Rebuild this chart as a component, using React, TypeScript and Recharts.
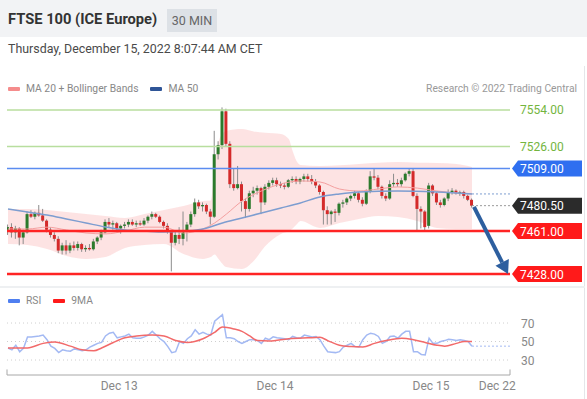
import { ComposedChart, Bar, Area, Line, XAxis, YAxis, ReferenceLine } from 'recharts';

const FONT = 'Roboto, "Liberation Sans", Arial, sans-serif';

// 30 min candles, Dec 12 evening -> Dec 15 morning
const OPEN = [
  7462, 7464, 7460, 7463, 7456, 7460, 7474, 7472, 7475, 7473,
  7469, 7462, 7458, 7455, 7446, 7450, 7446, 7450, 7448, 7451,
  7447, 7448, 7447, 7453, 7456, 7460, 7468, 7466, 7467, 7463,
  7465, 7466, 7468, 7466, 7467, 7466, 7469, 7472, 7474, 7472,
  7468, 7465, 7461, 7452, 7458, 7455, 7461, 7466, 7474, 7483,
  7480, 7481, 7476, 7472, 7520, 7527, 7553, 7528, 7497, 7494,
  7497, 7484, 7478, 7490, 7492, 7494, 7483, 7495, 7498, 7500,
  7497, 7496, 7495, 7500, 7501, 7499, 7501, 7503, 7501, 7499,
  7496, 7491, 7477, 7474, 7476, 7475, 7482, 7483, 7486, 7488,
  7490, 7485, 7482, 7491, 7503, 7502, 7495, 7488, 7486, 7497,
  7498, 7497, 7500, 7505, 7507, 7488, 7478, 7476, 7465, 7496,
  7490, 7483, 7481, 7486, 7491, 7492, 7490, 7491, 7488, 7485,
];
const HIGH = [
  7466, 7467, 7465, 7464, 7462, 7476, 7477, 7476, 7481, 7478,
  7470, 7464, 7460, 7457, 7452, 7454, 7452, 7453, 7453, 7452,
  7450, 7451, 7455, 7457, 7462, 7470, 7471, 7469, 7468, 7466,
  7468, 7470, 7470, 7469, 7469, 7471, 7473, 7476, 7475, 7473,
  7469, 7467, 7462, 7461, 7464, 7476, 7468, 7476, 7486, 7485,
  7483, 7482, 7478, 7538, 7530, 7556, 7555, 7530, 7509, 7511,
  7499, 7486, 7492, 7495, 7496, 7495, 7497, 7500, 7502, 7502,
  7499, 7498, 7501, 7503, 7503, 7502, 7505, 7505, 7504, 7501,
  7497, 7492, 7480, 7477, 7478, 7483, 7485, 7487, 7489, 7492,
  7491, 7487, 7493, 7507, 7509, 7504, 7496, 7490, 7500, 7505,
  7501, 7502, 7506, 7509, 7509, 7490, 7480, 7477, 7498, 7497,
  7491, 7485, 7487, 7493, 7494, 7493, 7492, 7492, 7489, 7486,
];
const LOW = [
  7458, 7456, 7455, 7450, 7451, 7459, 7471, 7470, 7472, 7468,
  7460, 7456, 7453, 7444, 7443, 7443, 7444, 7446, 7446, 7445,
  7445, 7446, 7446, 7451, 7454, 7459, 7464, 7462, 7461, 7459,
  7463, 7464, 7465, 7464, 7465, 7465, 7467, 7470, 7471, 7467,
  7463, 7459, 7430, 7450, 7451, 7450, 7453, 7464, 7472, 7478,
  7476, 7474, 7466, 7471, 7516, 7524, 7526, 7494, 7492, 7493,
  7476, 7471, 7476, 7487, 7489, 7474, 7481, 7493, 7496, 7495,
  7494, 7493, 7494, 7498, 7497, 7497, 7499, 7499, 7497, 7494,
  7489, 7466, 7466, 7466, 7468, 7473, 7479, 7481, 7484, 7486,
  7483, 7480, 7481, 7490, 7500, 7493, 7486, 7484, 7485, 7495,
  7495, 7495, 7499, 7503, 7487, 7461, 7463, 7461, 7463, 7488,
  7481, 7479, 7480, 7484, 7489, 7489, 7488, 7486, 7484, 7479,
];
const CLOSE = [
  7464, 7460, 7463, 7456, 7460, 7474, 7472, 7475, 7473, 7469,
  7462, 7458, 7455, 7446, 7450, 7446, 7450, 7448, 7451, 7447,
  7448, 7447, 7453, 7456, 7460, 7468, 7466, 7467, 7463, 7465,
  7466, 7468, 7466, 7467, 7466, 7469, 7472, 7474, 7472, 7468,
  7465, 7461, 7452, 7458, 7455, 7461, 7466, 7474, 7483, 7480,
  7481, 7476, 7472, 7520, 7527, 7553, 7528, 7497, 7494, 7497,
  7484, 7478, 7490, 7492, 7494, 7483, 7495, 7498, 7500, 7497,
  7496, 7495, 7500, 7501, 7499, 7501, 7503, 7501, 7499, 7496,
  7491, 7477, 7474, 7476, 7475, 7482, 7483, 7486, 7488, 7490,
  7485, 7482, 7491, 7503, 7502, 7495, 7488, 7486, 7497, 7498,
  7497, 7500, 7505, 7507, 7488, 7478, 7476, 7464, 7496, 7490,
  7483, 7481, 7486, 7491, 7492, 7490, 7491, 7488, 7485, 7480.5,
];

// Bollinger bands (20) sampled at bar index
const BB_IDX = [0, 5, 10, 15, 20, 25, 30, 35, 40, 45, 50, 52, 53, 54, 56, 60, 63, 66, 70, 72, 73, 74, 75, 80, 85, 90, 95, 100, 105, 110, 115, 119];
const BB_UPPER = [7478, 7478, 7477.2, 7475.7, 7474.1, 7472.6, 7471, 7474.1, 7477.2, 7480.3, 7484.1, 7484.5, 7511, 7530, 7538, 7539.4, 7537.5, 7536.5, 7535.6, 7531.7, 7522.5, 7514.8, 7511.8, 7511, 7511.5, 7512.5, 7513.5, 7514, 7513.5, 7513.3, 7512.5, 7510.2];
const BB_LOWER = [7451.1, 7450.3, 7447.2, 7441.9, 7439.6, 7441.1, 7448, 7450.3, 7451.1, 7443.4, 7439.6, 7441, 7443, 7439.6, 7433.4, 7431.9, 7438, 7449.5, 7458.8, 7461, 7463, 7466, 7468.7, 7463.4, 7467.2, 7470.3, 7472.6, 7471.8, 7468.7, 7463.4, 7462.6, 7462.6];

const MA20_IDX = [0, 5, 10, 15, 20, 25, 30, 35, 40, 45, 50, 53, 56, 60, 65, 70, 75, 80, 85, 90, 95, 100, 105, 110, 115, 119];
const MA20 = [7462.6, 7462.6, 7464, 7461.8, 7459.5, 7458.8, 7461, 7464, 7464, 7459.5, 7462.6, 7467.2, 7474, 7484, 7491.8, 7497.2, 7499.5, 7498.7, 7493.3, 7491.8, 7493.3, 7494.9, 7494, 7491.8, 7490.3, 7489.5];

const MA50_IDX = [0, 5, 10, 15, 20, 25, 30, 35, 40, 45, 50, 55, 60, 65, 70, 75, 80, 85, 90, 100, 110, 119];
const MA50 = [7478, 7475.6, 7473.3, 7470.3, 7467.2, 7464.1, 7461.8, 7461, 7460.3, 7461, 7462.6, 7467.2, 7471, 7474.9, 7478.7, 7482.6, 7487.2, 7489.5, 7491, 7491.8, 7491, 7489.5];

// RSI (14) and its 9 period average
const RSI = [
  43, 41, 46, 39, 43, 55, 55, 55.5, 56, 57,
  52, 45, 42.5, 38, 41, 40, 39.5, 42, 41, 40,
  41, 44, 46, 48, 49, 56, 59, 60, 54, 55,
  56, 58, 54, 53.6, 53.6, 55, 57, 61, 57, 53,
  50, 44.5, 38, 39, 50, 48, 53, 56, 62.7, 58,
  60, 58, 57, 72, 75.5, 79, 54, 54, 53, 50,
  48, 50, 52, 52, 51, 48, 53.6, 52, 55, 54,
  53.6, 53, 52, 55.5, 54, 53.6, 57, 56, 55, 55.5,
  52, 45, 39, 38.5, 38, 39, 44, 46, 48, 44.5,
  44, 52, 57, 59, 58, 55.5, 48, 50, 55.5, 56,
  53.6, 58, 61, 61, 39, 39, 36, 35.5, 53.6, 48,
  48, 50, 51, 52.5, 52, 51, 52, 51, 50, 45,
];
const MA9_IDX = [0, 5, 9, 12, 16, 19, 22, 24, 27, 30, 33, 37, 40, 43, 46, 50, 53, 55, 58, 60, 62, 64, 67, 72, 77, 80, 82, 85, 88, 91, 94, 97, 101, 104, 107, 110, 112, 115, 117, 119];
const MA9 = [43, 43, 48, 49.5, 45, 41, 40, 43, 49, 54, 56, 57, 56, 51, 49, 53, 60, 65.6, 63.5, 61, 56, 51, 50.5, 53, 54, 54.5, 51, 46, 44.5, 44, 48, 51, 53.6, 52, 49, 46, 45, 48, 50, 50];
const RSI_LEVELS = [70, 50, 30];

const RESISTANCES = [7554, 7526];
const PIVOT = 7509;
const SUPPORTS = [7461, 7428];
const LAST = 7480.5;
const TARGET = 7428;

const DAY_TICKS = [28.5, 68.5, 108.5, 125.5];
const DAY_LABELS = ['Dec 13', 'Dec 14', 'Dec 15', 'Dec 22'];

const X_MIN = -0.26;
const X_MAX = 128.75;
const P_MIN = 7419.55;
const P_MAX = 7561.68;
const R_MIN = 13.8;
const R_MAX = 88.4;

const GREEN = '#2c7a2c';
const RED = '#d42a2a';

const candles = OPEN.map((o, i) => ({ i, o, h: HIGH[i], l: LOW[i], c: CLOSE[i], range: [LOW[i], HIGH[i]] }));
const bandRows = BB_IDX.map((i, k) => ({ i, band: [BB_LOWER[k], BB_UPPER[k]] }));
const ma20Rows = MA20_IDX.map((i, k) => ({ i, ma20: MA20[k] }));
const ma50Rows = MA50_IDX.map((i, k) => ({ i, ma50: MA50[k] }));
const rsiRows = RSI.map((v, i) => ({ i, rsi: v }));
const ma9Rows = MA9_IDX.map((i, k) => ({ i, ma9: MA9[k] }));
const lastIdx = CLOSE.length - 1;

const Candle = (props: any) => {
  const { x, y, width, height, payload } = props;
  if (!payload) return null;
  const top = Math.min(y, y + height);
  const span = Math.abs(height);
  const k = payload.h === payload.l ? 0 : span / (payload.h - payload.l);
  const yO = top + (payload.h - payload.o) * k;
  const yC = top + (payload.h - payload.c) * k;
  const cx = x + width / 2;
  return (
    <g>
      <line x1={cx} x2={cx} y1={top} y2={top + span} stroke="#8c8c8c" strokeWidth={1} />
      <rect x={x} y={Math.min(yO, yC)} width={width} height={Math.max(1, Math.abs(yC - yO))} fill={payload.c >= payload.o ? GREEN : RED} />
    </g>
  );
};

const PriceTag = (props: any) => {
  const { viewBox, text, bg, fg } = props;
  if (!viewBox) return null;
  const x0 = viewBox.x + viewBox.width + 2;
  const y = viewBox.y;
  if (!bg) {
    return <text x={x0 + 8} y={y + 4.5} fill={fg} fontSize={12} fontFamily={FONT}>{text}</text>;
  }
  return (
    <g>
      <polygon points={`${x0},${y} ${x0 + 6},${y - 8} ${x0 + 70},${y - 8} ${x0 + 70},${y + 8} ${x0 + 6},${y + 8}`} fill={bg} />
      <text x={x0 + 8} y={y + 4.5} fill={fg} fontSize={12} fontFamily={FONT}>{text}</text>
    </g>
  );
};

const RsiTag = (props: any) => {
  const { viewBox, text } = props;
  if (!viewBox) return null;
  return <text x={viewBox.x + viewBox.width + 11} y={viewBox.y + 4.5} fill="#888" fontSize={12} fontFamily={FONT}>{text}</text>;
};

const Arrow = (props: any) => {
  const { x1, y1, x2, y2 } = props;
  if (x1 == null) return null;
  const dx = x2 - x1;
  const dy = y2 - y1;
  const len = Math.sqrt(dx * dx + dy * dy);
  const ux = dx / len;
  const uy = dy / len;
  const bx = x2 - ux * 13;
  const by = y2 - uy * 13;
  const px = -uy * 7.5;
  const py = ux * 7.5;
  return (
    <g>
      <line x1={x1} y1={y1} x2={bx} y2={by} stroke="#2d5f9f" strokeWidth={4} />
      <polygon points={`${x2},${y2} ${bx + px},${by + py} ${bx - px},${by - py}`} fill="#2d5f9f" />
    </g>
  );
};

const swatch = (color: string) => (
  <span style={{ display: 'inline-block', width: 12, height: 4, background: color, marginRight: 6, verticalAlign: 'middle', borderRadius: 1 }} />
);

export default function App() {
  return (
    <div style={{ position: 'absolute', left: 0, top: 0, width: 587, height: 399, background: '#fff', fontFamily: FONT, overflow: 'hidden' }}>
      <div style={{ position: 'absolute', left: 0, top: 0, width: 587, height: 37, background: '#f2f3f5' }} />
      <div style={{ position: 'absolute', left: 8, top: 10, fontSize: 14.7, fontWeight: 700, color: '#333', lineHeight: '18px' }}>
        FTSE 100 (ICE Europe)
      </div>
      <div style={{ position: 'absolute', left: 167, top: 9, width: 50, height: 23, background: '#dde1e6', color: '#666', fontSize: 12.5, lineHeight: '23px', textAlign: 'center' }}>
        30 MIN
      </div>
      <div style={{ position: 'absolute', left: 8, top: 40, fontSize: 12.4, color: '#4a4a4a', lineHeight: '18px', whiteSpace: 'nowrap' }}>
        Thursday, December 15, 2022 8:07:44 AM CET
      </div>
      <div style={{ position: 'absolute', left: 584, top: 66, width: 1, height: 333, background: '#e4e6e9' }} />
      <div style={{ position: 'absolute', left: 0, top: 286, width: 585, height: 2, background: '#eef0f2' }} />

      <div style={{ position: 'absolute', left: 8, top: 82, fontSize: 10.3, color: '#888', lineHeight: '14px', whiteSpace: 'nowrap' }}>
        {swatch('#f58c8c')}MA 20 + Bollinger Bands
        <span style={{ display: 'inline-block', width: 12 }} />
        {swatch('#2f5597')}MA 50
      </div>
      <div style={{ position: 'absolute', right: 10, top: 82, fontSize: 10.3, color: '#999', lineHeight: '14px', whiteSpace: 'nowrap' }}>
        Research © 2022 Trading Central
      </div>

      <div style={{ position: 'absolute', left: 0, top: 95 }}>
        <ComposedChart width={587} height={195} data={candles} margin={{ top: 5, right: 77, bottom: 5, left: 7 }}>
          <XAxis type="number" dataKey="i" domain={[X_MIN, X_MAX]} allowDataOverflow hide />
          <YAxis type="number" domain={[P_MIN, P_MAX]} allowDataOverflow hide />
          <Area data={bandRows} dataKey="band" type="monotone" stroke="none" fill="#fde0e0" fillOpacity={0.9} isAnimationActive={false} />
          <Line data={ma20Rows} dataKey="ma20" type="monotone" stroke="#f4a0a0" strokeWidth={1} dot={false} isAnimationActive={false} />
          <Line data={ma50Rows} dataKey="ma50" type="monotone" stroke="#7d9dd0" strokeWidth={1.5} dot={false} isAnimationActive={false} />
          {RESISTANCES.map((v) => (
            <ReferenceLine key={v} y={v} stroke="#b8de9e" strokeWidth={1.5} label={<PriceTag text={v.toFixed(2)} fg="#74b53e" />} />
          ))}
          <ReferenceLine y={PIVOT} stroke="#5b8cf0" strokeWidth={1.5} label={<PriceTag text={PIVOT.toFixed(2)} bg="#2f6ff0" fg="#fff" />} />
          {SUPPORTS.map((v) => (
            <ReferenceLine key={v} y={v} stroke="#ff2424" strokeWidth={2.5} label={<PriceTag text={v.toFixed(2)} bg="#ff1a1a" fg="#fff" />} />
          ))}
          <ReferenceLine segment={[{ x: lastIdx, y: MA50[MA50.length - 1] }, { x: X_MAX, y: MA50[MA50.length - 1] }]} stroke="#7d9dd0" strokeDasharray="2 2" />
          <ReferenceLine segment={[{ x: lastIdx, y: LAST }, { x: X_MAX, y: LAST }]} stroke="#999" strokeDasharray="2 2" label={<PriceTag text={LAST.toFixed(2)} bg="#2b2b2b" fg="#fff" />} />
          <Bar dataKey="range" barSize={3} shape={<Candle />} isAnimationActive={false} />
          <ReferenceLine segment={[{ x: lastIdx + 0.5, y: LAST - 1 }, { x: X_MAX - 0.5, y: TARGET }]} shape={<Arrow />} />
        </ComposedChart>
      </div>

      <div style={{ position: 'absolute', left: 8, top: 294, fontSize: 10.3, color: '#888', lineHeight: '14px', whiteSpace: 'nowrap' }}>
        {swatch('#4f7ff0')}RSI
        <span style={{ display: 'inline-block', width: 12 }} />
        {swatch('#ff1a1a')}9MA
      </div>

      <div style={{ position: 'absolute', left: 0, top: 290 }}>
        <ComposedChart width={587} height={109} data={rsiRows} margin={{ top: 16, right: 77, bottom: 4, left: 7 }}>
          <XAxis
            type="number" dataKey="i" domain={[X_MIN, X_MAX]} allowDataOverflow ticks={DAY_TICKS}
            tickFormatter={(v: number) => DAY_LABELS[DAY_TICKS.indexOf(v)]}
            tick={{ fill: '#888', fontSize: 12, fontFamily: FONT }} tickLine={false} tickSize={4}
            axisLine={{ stroke: '#a8a8a8' }} height={20} interval={0}
          />
          <YAxis type="number" domain={[R_MIN, R_MAX]} allowDataOverflow hide />
          {RSI_LEVELS.map((v) => (
            <ReferenceLine key={v} y={v} stroke="#cfcfcf" strokeDasharray="1 3" label={<RsiTag text={String(v)} />} />
          ))}
          <ReferenceLine segment={[{ x: X_MIN, y: R_MIN }, { x: X_MIN, y: R_MIN + 6 }]} stroke="#a8a8a8" />
          <ReferenceLine segment={[{ x: X_MAX, y: R_MIN }, { x: X_MAX, y: R_MIN + 6 }]} stroke="#a8a8a8" />
          <Line dataKey="rsi" type="linear" stroke="#a3b9f3" strokeWidth={1.5} dot={false} isAnimationActive={false} />
          <Line data={ma9Rows} dataKey="ma9" type="monotone" stroke="#f26a6a" strokeWidth={1.5} dot={false} isAnimationActive={false} />
          <ReferenceLine segment={[{ x: lastIdx, y: RSI[lastIdx] }, { x: X_MAX, y: RSI[lastIdx] }]} stroke="#a3b9f3" strokeDasharray="2 2" />
        </ComposedChart>
      </div>
    </div>
  );
}
